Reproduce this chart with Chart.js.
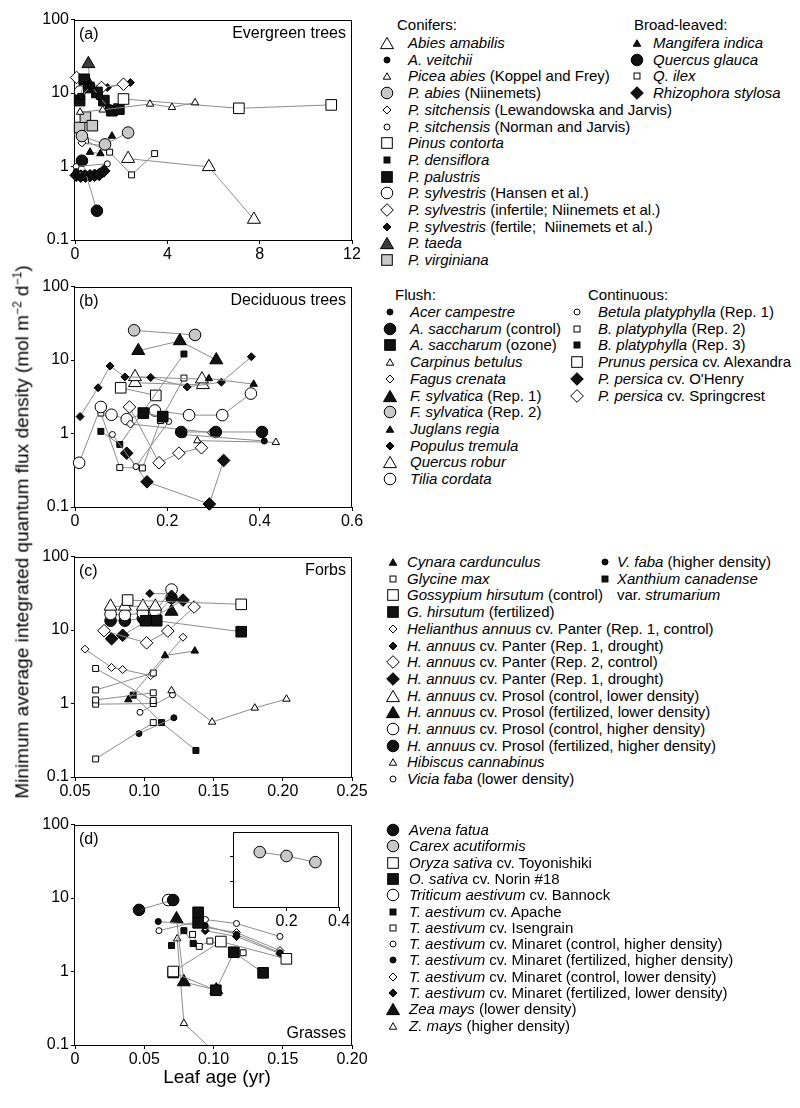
<!DOCTYPE html>
<html><head><meta charset="utf-8">
<script src="https://cdn.jsdelivr.net/npm/chart.js@4"></script>
<style>
body{margin:0;background:#fff;}
#wrap{position:relative;width:800px;height:1108px;background:#fff;font-family:"Liberation Sans",Arial,sans-serif;color:#000;overflow:hidden;}
canvas{position:absolute;}
.lt{position:absolute;font-size:15px;line-height:18px;height:18px;white-space:nowrap;}
.ax{position:absolute;font-size:19px;white-space:nowrap;}
</style></head><body><div id="wrap">
<canvas id="ca" width="370" height="262" style="left:0;top:8px"></canvas>
<canvas id="cb" width="370" height="262" style="left:0;top:275px"></canvas>
<canvas id="cc" width="370" height="262" style="left:0;top:545px"></canvas>
<canvas id="cd" width="370" height="262" style="left:0;top:813px"></canvas>
<canvas id="ci" width="131" height="111" style="left:224px;top:820px"></canvas>
<div class="ax" style="left:22px;top:532px;transform:translate(-50%,-50%) rotate(-90deg);">Minimum average integrated quantum flux density (mol m<sup style="font-size:12px">−2</sup> d<sup style="font-size:12px">−1</sup>)</div>
<div class="ax" style="left:217px;top:1077px;transform:translate(-50%,-50%);">Leaf age (yr)</div>
</div>
<script>
// ---------- axis ticks ----------
const yTicks = [0.1, 1, 10, 100];
const yTickLabels = ['0.1', '1', '10', '100'];
const xTicksA = [0, 4, 8, 12];
const xLabelsA = ['0', '4', '8', '12'];
const xTicksB = [0, 0.2, 0.4, 0.6];
const xLabelsB = ['0', '0.2', '0.4', '0.6'];
const xTicksC = [0.05, 0.10, 0.15, 0.20, 0.25];
const xLabelsC = ['0.05', '0.10', '0.15', '0.20', '0.25'];
const xTicksD = [0, 0.05, 0.10, 0.15, 0.20];
const xLabelsD = ['0', '0.05', '0.10', '0.15', '0.20'];
const xTicksInset = [0.2, 0.4];
const xLabelsInset = ['0.2', '0.4'];
const yTicksInset = [1, 10];

// ---------- (a) Evergreen trees ----------
const a_abiesAmabilis = [[2.3,1.28],[5.8,0.99],[7.75,0.19]];
const a_aVeitchii = [[0.05,0.85],[0.4,0.8]];
const a_piceaAbiesKF = [[0.22,5.5],[1.2,5.9],[3.25,7.1],[4.2,6.4],[5.2,7.4]];
const a_pAbiesN = [[0.3,2.6],[1.3,2.0],[2.3,2.9]];
const a_sitchensisLJ = [[0.3,2.1],[1.3,1.9]];
const a_sitchensisNJ = [[0.05,1.0],[1.4,1.09]];
const a_pinusContorta = [[2.1,8.3],[7.1,6.2],[11.1,6.9]];
const a_pDensiflora = [[0.25,9.0],[0.7,12.5],[1.05,9.0],[1.45,6.3]];
const a_pPalustris = [[0.2,7.9],[0.4,15.4],[0.6,11.9],[0.95,10.2],[1.25,7.9],[1.6,5.75],[1.9,6.05]];
const a_sylvestrisHansen = [[0.22,10.5]];
const a_sylvestrisInfertile = [[0.07,16.3],[1.15,11.9],[2.1,13.2]];
const a_sylvestrisFertile = [[1.4,11.9],[2.4,13.9]];
const a_pTaeda = [[0.58,25],[0.65,12.5]];
const a_pVirginiana = [[0.2,3.4],[0.45,4.7],[0.75,3.6]];
const a_mangifera = [[0.65,1.57],[1.1,1.5],[1.6,2.6]];
const a_quercusGlauca = [[0.3,1.2],[0.95,0.25]];
const a_qIlex = [[0.45,2.25],[1.5,1.57],[2.45,0.77],[3.45,1.5]];
const a_rhizophora = [[0.05,0.76],[0.25,0.74],[0.45,0.74],[0.65,0.75],[0.85,0.76],[1.05,0.78],[1.25,0.87]];

// ---------- (b) Deciduous trees ----------
const b_acerCampestre = [[0.235,0.97],[0.41,0.79]];
const b_saccharumControl = [[0.23,1.05],[0.305,1.05],[0.405,1.05]];
const b_saccharumOzone = [[0.148,1.9],[0.19,1.7]];
const b_carpinus = [[0.265,0.8],[0.435,0.76]];
const b_fagusCrenata = [[0.12,1.35],[0.295,1.03]];
const b_sylvaticaRep1 = [[0.137,13.4],[0.227,18.2],[0.306,10.0]];
const b_sylvaticaRep2 = [[0.128,25.4],[0.26,22]];
const b_juglans = [[0.29,5.6],[0.387,4.7]];
const b_populus = [[0.011,1.7],[0.05,4.2],[0.076,8.3],[0.108,5.9],[0.164,5.8],[0.243,4.3],[0.317,5.0],[0.382,11.1]];
const b_quercusRobur = [[0.13,5.9],[0.275,5.5],null,[0.13,4.9],[0.277,4.6]];
const b_tilia = [[0.009,0.40],[0.056,2.3],[0.079,1.8],[0.112,1.57],[0.173,2.06],[0.247,1.78],[0.319,1.78],[0.381,3.5]];
const b_betulaRep1 = [[0.081,0.97],[0.132,0.355],[0.203,1.46]];
const b_betulaRep2 = [[0.056,1.9],[0.097,0.344],[0.146,0.34],[0.185,1.5],[0.236,5.7]];
const b_betulaRep3 = [[0.056,1.07],[0.097,0.71],[0.236,12.1]];
const b_alexandra = [[0.099,4.2],[0.175,3.3]];
const b_oHenry = [[0.112,0.54],[0.156,0.22],[0.291,0.11],[0.322,0.43]];
const b_springcrest = [[0.118,2.3],[0.182,0.40],[0.225,0.54],[0.274,0.64]];

// ---------- (c) Forbs ----------
const c_cynara = [[0.0885,1.13],[0.115,4.5],[0.1365,5.2]];
const c_glycine = [[0.0649,3.0],[0.1065,1.1],null,[0.0649,1.53],[0.1065,2.6],null,[0.0649,1.12],[0.1065,1.4],null,[0.0649,0.98],[0.1065,1.0],null,[0.0649,0.176],[0.1065,0.55]];
const c_gossypiumControl = [[0.088,25.6],[0.170,22.4]];
const c_gossypiumFert = [[0.101,13.4],[0.109,13.4],[0.170,9.5]];
const c_panterR1Control = [[0.0572,5.5],[0.0764,3.1],[0.0844,2.9],[0.1046,2.4],[0.128,8.0]];
const c_panterR1DroughtS = [[0.104,31.5],[0.1197,31]];
const c_panterR2Control = [[0.071,9.8],[0.1017,6.7],[0.117,9.7],[0.136,20.6]];
const c_panterR1DroughtL = [[0.0764,7.6],[0.0844,8.5],[0.128,25.6]];
const c_prosolCtrlLow = [[0.0757,21],[0.086,21],[0.099,21],[0.108,21]];
const c_prosolFertLow = [[0.1197,17.9]];
const c_prosolCtrlHigh = [[0.0757,16.5],[0.086,16],[0.099,17],[0.108,18],[0.1197,35.6]];
const c_prosolFertHigh = [[0.0757,13.4],[0.086,13.4],[0.099,14.5],[0.108,15.2],[0.1197,27.5]];
const c_hibiscus = [[0.1197,1.5],[0.149,0.56],[0.1798,0.87],[0.2027,1.15]];
const c_viciaLow = [[0.0969,0.76],[0.1204,1.31]];
const c_viciaHigh = [[0.0962,0.39],[0.1214,0.64]];
const c_xanthium = [[0.092,1.3],[0.1125,0.55],[0.1373,0.23]];

// ---------- (d) Grasses ----------
const d_avena = [[0.0462,6.9],[0.0709,9.4]];
const d_carex = [[0.098,15.3],[0.2,10.7],[0.31,6.1]];
const d_oryzaToyo = [[0.0709,1.0],[0.1053,2.56],[0.1526,1.49]];
const d_oryzaNorin = [[0.0709,0.97],[0.1017,0.556],[0.1147,1.83],[0.1358,0.96],null,[0.0889,6.4],[0.0889,4.6]];
const d_bannock = [[0.0673,9.4]];
const d_apache = [[0.0697,2.26],[0.0786,3.6],[0.0853,2.4]];
const d_isengrain = [[0.0849,3.2],[0.0897,2.2],[0.0974,2.6],[0.1214,1.8]];
const d_minaretCtrlHigh = [[0.0606,3.6],[0.0942,5.1],[0.1166,4.5],[0.148,3.0]];
const d_minaretFertHigh = [[0.0601,4.8],[0.094,4.2],[0.1166,3.2],[0.148,1.8]];
const d_minaretCtrlLow = [[0.094,4.0],[0.1166,3.4],[0.148,1.93]];
const d_minaretFertLow = [[0.094,3.6],[0.1166,3.0],[0.148,1.75]];
const d_zeaLow = [[0.0733,5.2],[0.0786,0.72],[0.102,0.56]];
const d_zeaHigh = [[0.0738,2.8],[0.0786,0.197],[0.101,0.08]];

// ---------- marker styles ----------
const BLACK = '#111', WHITE = '#fff', GRAY = '#c8c8c8', DARK = '#3c3c3c', LINE = '#8c8c8c';
const MK = {
  tri:{ps:'triangle',r:7.5,fill:BLACK}, triO:{ps:'triangle',r:7.5,fill:WHITE}, triD:{ps:'triangle',r:7.5,fill:DARK},
  tris:{ps:'triangle',r:4.3,fill:BLACK}, trisO:{ps:'triangle',r:4.3,fill:WHITE},
  cir:{ps:'circle',r:5.8,fill:BLACK}, cirO:{ps:'circle',r:5.8,fill:WHITE}, cirG:{ps:'circle',r:5.8,fill:GRAY},
  cirs:{ps:'circle',r:3,fill:BLACK}, cirsO:{ps:'circle',r:3,fill:WHITE},
  sq:{ps:'rect',r:7.5,fill:BLACK}, sqO:{ps:'rect',r:7.5,fill:WHITE}, sqG:{ps:'rect',r:7.5,fill:GRAY},
  sqs:{ps:'rect',r:4.2,fill:BLACK}, sqsO:{ps:'rect',r:4.2,fill:WHITE},
  dia:{ps:'rectRot',r:6.3,fill:BLACK}, diaO:{ps:'rectRot',r:6.3,fill:WHITE},
  dias:{ps:'rectRot',r:4,fill:BLACK}, diasO:{ps:'rectRot',r:4,fill:WHITE}
};

const seriesA = [
  {d:a_abiesAmabilis,mk:'triO'},{d:a_aVeitchii,mk:'cirs'},{d:a_piceaAbiesKF,mk:'trisO'},{d:a_pAbiesN,mk:'cirG'},
  {d:a_sitchensisLJ,mk:'diasO'},{d:a_sitchensisNJ,mk:'cirsO'},{d:a_pinusContorta,mk:'sqO'},{d:a_pDensiflora,mk:'sqs'},
  {d:a_pPalustris,mk:'sq'},{d:a_sylvestrisHansen,mk:'cirO'},{d:a_sylvestrisInfertile,mk:'diaO'},{d:a_sylvestrisFertile,mk:'dias'},
  {d:a_pTaeda,mk:'triD'},{d:a_pVirginiana,mk:'sqG'},{d:a_mangifera,mk:'tris'},{d:a_quercusGlauca,mk:'cir'},
  {d:a_qIlex,mk:'sqsO'},{d:a_rhizophora,mk:'dia'}
];
const seriesB = [
  {d:b_acerCampestre,mk:'cirs'},{d:b_saccharumControl,mk:'cir'},{d:b_saccharumOzone,mk:'sq'},{d:b_carpinus,mk:'trisO'},
  {d:b_fagusCrenata,mk:'diasO'},{d:b_sylvaticaRep1,mk:'tri'},{d:b_sylvaticaRep2,mk:'cirG'},{d:b_juglans,mk:'tris'},
  {d:b_populus,mk:'dias'},{d:b_quercusRobur,mk:'triO'},{d:b_tilia,mk:'cirO'},{d:b_betulaRep1,mk:'cirsO'},
  {d:b_betulaRep2,mk:'sqsO'},{d:b_betulaRep3,mk:'sqs'},{d:b_alexandra,mk:'sqO'},{d:b_oHenry,mk:'dia'},{d:b_springcrest,mk:'diaO'}
];
const seriesC = [
  {d:c_cynara,mk:'tris'},{d:c_glycine,mk:'sqsO'},{d:c_gossypiumControl,mk:'sqO'},{d:c_gossypiumFert,mk:'sq'},
  {d:c_panterR1Control,mk:'diasO'},{d:c_panterR1DroughtS,mk:'dias'},{d:c_panterR2Control,mk:'diaO'},{d:c_panterR1DroughtL,mk:'dia'},
  {d:c_prosolCtrlLow,mk:'triO'},{d:c_prosolFertLow,mk:'tri'},{d:c_prosolCtrlHigh,mk:'cirO'},{d:c_prosolFertHigh,mk:'cir'},
  {d:c_hibiscus,mk:'trisO'},{d:c_viciaLow,mk:'cirsO'},{d:c_viciaHigh,mk:'cirs'},{d:c_xanthium,mk:'sqs'}
];
const seriesD = [
  {d:d_avena,mk:'cir'},{d:d_oryzaToyo,mk:'sqO'},{d:d_oryzaNorin,mk:'sq'},{d:d_bannock,mk:'cirO'},
  {d:d_apache,mk:'sqs'},{d:d_isengrain,mk:'sqsO'},{d:d_minaretCtrlHigh,mk:'cirsO'},{d:d_minaretFertHigh,mk:'cirs'},
  {d:d_minaretCtrlLow,mk:'diasO'},{d:d_minaretFertLow,mk:'dias'},{d:d_zeaLow,mk:'tri'},{d:d_zeaHigh,mk:'trisO'}
];
const seriesInset = [{d:d_carex,mk:'cirG'}];

// ---------- legends ----------
const legendA1 = [
  ['triO','<i>Abies amabilis</i>'],['cirs','<i>A. veitchii</i>'],['trisO','<i>Picea abies</i> (Koppel and Frey)'],
  ['cirG','<i>P. abies</i> (Niinemets)'],['diasO','<i>P. sitchensis</i> (Lewandowska and Jarvis)'],
  ['cirsO','<i>P. sitchensis</i> (Norman and Jarvis)'],['sqO','<i>Pinus contorta</i>'],['sqs','<i>P. densiflora</i>'],
  ['sq','<i>P. palustris</i>'],['cirO','<i>P. sylvestris</i> (Hansen et al.)'],['diaO','<i>P. sylvestris</i> (infertile; Niinemets et al.)'],
  ['dias','<i>P. sylvestris</i> (fertile;&nbsp; Niinemets et al.)'],['triD','<i>P. taeda</i>'],['sqG','<i>P. virginiana</i>']
];
const legendA2 = [['tris','<i>Mangifera indica</i>'],['cir','<i>Quercus glauca</i>'],['sqsO','<i>Q. ilex</i>'],['dia','<i>Rhizophora stylosa</i>']];
const legendB1 = [
  ['cirs','<i>Acer campestre</i>'],['cir','<i>A. saccharum</i> (control)'],['sq','<i>A. saccharum</i> (ozone)'],
  ['trisO','<i>Carpinus betulus</i>'],['diasO','<i>Fagus crenata</i>'],['tri','<i>F. sylvatica</i> (Rep. 1)'],
  ['cirG','<i>F. sylvatica</i> (Rep. 2)'],['tris','<i>Juglans regia</i>'],['dias','<i>Populus tremula</i>'],
  ['triO','<i>Quercus robur</i>'],['cirO','<i>Tilia cordata</i>']
];
const legendB2 = [
  ['cirsO','<i>Betula platyphylla</i> (Rep. 1)'],['sqsO','<i>B. platyphylla</i> (Rep. 2)'],['sqs','<i>B. platyphylla</i> (Rep. 3)'],
  ['sqO','<i>Prunus persica</i> cv. Alexandra'],['dia',"<i>P. persica</i> cv. O'Henry"],['diaO','<i>P. persica</i> cv. Springcrest']
];
const legendC1 = [
  ['tris','<i>Cynara cardunculus</i>'],['sqsO','<i>Glycine max</i>'],['sqO','<i>Gossypium hirsutum</i> (control)'],
  ['sq','<i>G. hirsutum</i> (fertilized)'],['diasO','<i>Helianthus annuus</i> cv. Panter (Rep. 1, control)'],
  ['dias','<i>H. annuus</i> cv. Panter (Rep. 1, drought)'],['diaO','<i>H. annuus</i> cv. Panter (Rep. 2, control)'],
  ['dia','<i>H. annuus</i> cv. Panter (Rep. 1, drought)'],['triO','<i>H. annuus</i> cv. Prosol (control, lower density)'],
  ['tri','<i>H. annuus</i> cv. Prosol (fertilized, lower density)'],['cirO','<i>H. annuus</i> cv. Prosol (control, higher density)'],
  ['cir','<i>H. annuus</i> cv. Prosol (fertilized, higher density)'],['trisO','<i>Hibiscus cannabinus</i>'],
  ['cirsO','<i>Vicia faba</i> (lower density)']
];
const legendC2 = [['cirs','<i>V. faba</i> (higher density)'],['sqs','<i>Xanthium canadense</i>'],[null,'var. <i>strumarium</i>']];
const legendD1 = [
  ['cir','<i>Avena fatua</i>'],['cirG','<i>Carex acutiformis</i>'],['sqO','<i>Oryza sativa</i> cv. Toyonishiki'],
  ['sq','<i>O. sativa</i> cv. Norin #18'],['cirO','<i>Triticum aestivum</i> cv. Bannock'],['sqs','<i>T. aestivum</i> cv. Apache'],
  ['sqsO','<i>T. aestivum</i> cv. Isengrain'],['cirsO','<i>T. aestivum</i> cv. Minaret (control, higher density)'],
  ['cirs','<i>T. aestivum</i> cv. Minaret (fertilized, higher density)'],['diasO','<i>T. aestivum</i> cv. Minaret (control, lower density)'],
  ['dias','<i>T. aestivum</i> cv. Minaret (fertilized, lower density)'],['tri','<i>Zea mays</i> (lower density)'],
  ['trisO','<i>Z. mays</i> (higher density)']
];

// ---------- rendering ----------
Chart.defaults.font.family = '"Liberation Sans", Arial, sans-serif';
Chart.defaults.font.size = 16;
Chart.defaults.color = '#000';

const framePlugin = {
  id: 'frame',
  beforeDatasetsDraw(chart, args, o) {
    const {ctx, chartArea: a} = chart;
    ctx.save();
    const l = Math.round(a.left) - 0.5, t = Math.round(a.top) + 0.5;
    const w = Math.round(a.right) - Math.round(a.left), h = Math.round(a.bottom) - Math.round(a.top);
    if (o.fill) { ctx.fillStyle = '#fff'; ctx.fillRect(l, t, w, h); }
    ctx.strokeStyle = '#000'; ctx.lineWidth = 1;
    ctx.strokeRect(l, t, w, h);
    ctx.restore();
  },
  afterDatasetsDraw(chart, args, o) {
    const {ctx, chartArea: a} = chart;
    ctx.save();
    ctx.fillStyle = '#000';
    ctx.font = '16px "Liberation Sans", Arial, sans-serif';
    (o.texts || []).forEach(t => {
      if (t.pos === 'tl') { ctx.textAlign = 'left'; ctx.fillText(t.text, a.left + 4, a.top + 19); }
      if (t.pos === 'tr') { ctx.textAlign = 'right'; ctx.fillText(t.text, a.right - 6, a.top + 18); }
      if (t.pos === 'br') { ctx.textAlign = 'right'; ctx.fillText(t.text, a.right - 6, a.bottom - 7); }
    });
    ctx.restore();
  }
};

function buildDatasets(series, clip) {
  const out = [];
  series.forEach(s => {
    const m = MK[s.mk];
    const segs = [[]];
    s.d.forEach(p => { if (p === null) segs.push([]); else segs[segs.length - 1].push({x: p[0], y: p[1]}); });
    segs.forEach(sg => out.push({
      data: sg, showLine: true, borderColor: LINE, borderWidth: 1,
      pointStyle: m.ps, pointRadius: m.r, pointHoverRadius: m.r,
      pointBackgroundColor: m.fill, pointBorderColor: '#000', pointBorderWidth: 1,
      clip: clip
    }));
  });
  return out;
}

function makeChart(id, series, c) {
  return new Chart(document.getElementById(id), {
    type: 'scatter',
    data: {datasets: buildDatasets(series, c.clip)},
    options: {
      responsive: false, animation: false, devicePixelRatio: 1, events: [],
      layout: {padding: {top: c.padTop, right: c.padRight, left: 0, bottom: 0}},
      plugins: {legend: {display: false}, tooltip: {enabled: false}, frame: {texts: c.texts, fill: c.fill}},
      scales: {
        x: {
          type: 'linear', min: c.xMin, max: c.xMax,
          afterBuildTicks: s => { s.ticks = c.xTicks.map(v => ({value: v})); },
          afterFit: s => { s.height = c.xh; },
          ticks: {callback: (v, i) => c.xLabels[i], maxRotation: 0, autoSkip: false, padding: 1, font: {size: 16}},
          grid: {display: true, drawOnChartArea: false, drawTicks: true, tickLength: 4, tickColor: '#000', color: '#000'},
          border: {display: false}
        },
        y: {
          type: 'logarithmic', min: c.yMin, max: c.yMax,
          afterBuildTicks: s => { s.ticks = c.yTicks.map(v => ({value: v})); },
          afterFit: s => { s.width = c.yw; },
          ticks: {callback: (v, i) => c.yLabels[i], autoSkip: false, padding: 2, font: {size: 16}},
          grid: {display: true, drawOnChartArea: false, drawTicks: true, tickLength: 4, tickColor: '#000', color: '#000'},
          border: {display: false}
        }
      }
    },
    plugins: [framePlugin]
  });
}

const common = {padTop: 10, padRight: 18, xh: 30, yw: 75, yMin: 0.1, yMax: 100, yTicks: yTicks, yLabels: yTickLabels, clip: false};
makeChart('ca', seriesA, Object.assign({}, common, {xMin: 0, xMax: 12, xTicks: xTicksA, xLabels: xLabelsA, texts: [{text: '(a)', pos: 'tl'}, {text: 'Evergreen trees', pos: 'tr'}]}));
makeChart('cb', seriesB, Object.assign({}, common, {xMin: 0, xMax: 0.6, xTicks: xTicksB, xLabels: xLabelsB, texts: [{text: '(b)', pos: 'tl'}, {text: 'Deciduous trees', pos: 'tr'}]}));
makeChart('cc', seriesC, Object.assign({}, common, {xMin: 0.05, xMax: 0.25, xTicks: xTicksC, xLabels: xLabelsC, texts: [{text: '(c)', pos: 'tl'}, {text: 'Forbs', pos: 'tr'}]}));
makeChart('cd', seriesD, Object.assign({}, common, {xMin: 0, xMax: 0.20, xTicks: xTicksD, xLabels: xLabelsD, clip: {left: false, top: false, right: false, bottom: 0}, texts: [{text: '(d)', pos: 'tl'}, {text: 'Grasses', pos: 'br'}]}));
makeChart('ci', seriesInset, Object.assign({}, common, {padTop: 5, padRight: 16, xh: 24, yw: 10, xMin: 0, xMax: 0.4, xTicks: xTicksInset, xLabels: xLabelsInset, yTicks: yTicksInset, yLabels: ['', ''], fill: true, texts: []}));

// HTML legends
const wrap = document.getElementById('wrap');
function marker(mk, cx, cy) {
  const m = MK[mk], c = 10, r = m.r;
  let shape;
  if (m.ps === 'circle') shape = `<circle cx="${c}" cy="${c}" r="${r}"/>`;
  else if (m.ps === 'rect') { const h = r * Math.SQRT1_2; shape = `<rect x="${c - h}" y="${c - h}" width="${2 * h}" height="${2 * h}"/>`; }
  else if (m.ps === 'rectRot') shape = `<polygon points="${c - r},${c} ${c},${c - r} ${c + r},${c} ${c},${c + r}"/>`;
  else { const o = r * 0.25; shape = `<polygon points="${c},${c - r + o} ${c + 0.866 * r},${c + r / 2 + o} ${c - 0.866 * r},${c + r / 2 + o}"/>`; }
  const el = document.createElement('div');
  el.style.cssText = `position:absolute;left:${cx - c}px;top:${cy - c}px;width:20px;height:20px;`;
  el.innerHTML = `<svg width="20" height="20"><g fill="${m.fill}" stroke="#000" stroke-width="1">${shape}</g></svg>`;
  wrap.appendChild(el);
}
function text(html, x, y) {
  const el = document.createElement('div');
  el.className = 'lt';
  el.style.left = x + 'px'; el.style.top = (y - 9) + 'px';
  el.innerHTML = html;
  wrap.appendChild(el);
}
function legend(items, mx, tx, y0, dy) {
  items.forEach((it, i) => {
    const y = y0 + i * dy;
    if (it[0]) marker(it[0], mx, y);
    text(it[1], tx, y);
  });
}
text('Conifers:', 397, 25); text('Broad-leaved:', 634, 25);
legend(legendA1, 387, 408, 43, 16.7);
legend(legendA2, 637, 653, 43, 16.7);
text('Flush:', 395, 295); text('Continuous:', 588, 295);
legend(legendB1, 390, 410, 312, 16.7);
legend(legendB2, 577, 598, 312, 16.7);
legend(legendC1, 393, 407, 562, 16.7);
legend(legendC2, 605, 617, 562, 16.7);
legend(legendD1, 393, 409, 830, 16.3);
</script>
</body></html>
